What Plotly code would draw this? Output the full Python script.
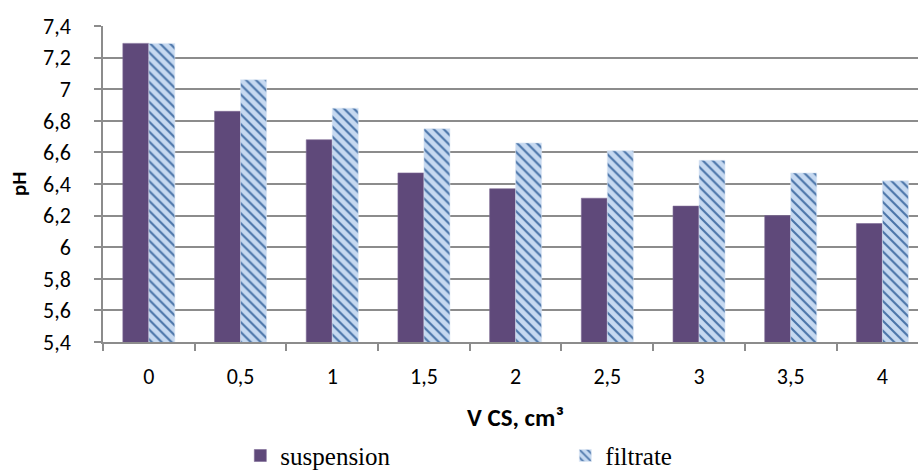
import plotly.graph_objects as go

# Volume of CS added (cm³) and measured pH
volumes = ["0", "0,5", "1", "1,5", "2", "2,5", "3", "3,5", "4"]
ph_suspension = [7.29, 6.86, 6.68, 6.47, 6.37, 6.31, 6.26, 6.20, 6.15]
ph_filtrate = [7.29, 7.06, 6.88, 6.75, 6.66, 6.61, 6.55, 6.47, 6.42]

y_tickvals = [5.4, 5.6, 5.8, 6.0, 6.2, 6.4, 6.6, 6.8, 7.0, 7.2, 7.4]
y_ticktext = ["5,4", "5,6", "5,8", "6", "6,2", "6,4", "6,6", "6,8", "7", "7,2", "7,4"]

sans = "Carlito, Calibri, Lato, sans-serif"
serif = "'Times New Roman', 'Liberation Serif', serif"
grid = "#8c8c8c"

fig = go.Figure()
fig.add_trace(go.Bar(
    x=volumes, y=ph_suspension, name="suspension",
    marker=dict(color="#5F497A", line=dict(color="#7d6a96", width=0.6)),
))
fig.add_trace(go.Bar(
    x=volumes, y=ph_filtrate, name="filtrate",
    marker=dict(
        color="#C6D9F1",
        line=dict(color="#dbe6f4", width=0.6),
        pattern=dict(shape="\\", fgcolor="#4A74A8", bgcolor="#C6D9F1",
                     size=7, solidity=0.3, fillmode="replace"),
    ),
))

fig.update_layout(
    width=918, height=472,
    margin=dict(l=103, r=0, t=26, b=130, autoexpand=False),
    paper_bgcolor="white", plot_bgcolor="white",
    barmode="group", bargap=0.433, bargroupgap=0,
    font=dict(family=sans, size=21, color="#000000"),
    showlegend=True,
    legend=dict(
        orientation="h", x=0.1685, xanchor="left", y=-0.36, yanchor="middle",
        font=dict(family=serif, size=25, color="#000000"),
        entrywidth=280, entrywidthmode="pixels", itemwidth=30,
        traceorder="normal", bgcolor="rgba(0,0,0,0)",
    ),
)

fig.update_xaxes(
    type="category", range=[-0.5, 8.388],
    showline=True, linecolor=grid, linewidth=1.5,
    ticks="outside", tickson="boundaries", ticklen=7, tickcolor=grid, tickwidth=1.5,
    showgrid=False, ticklabelstandoff=14,
    tickfont=dict(family=sans, size=22),
)
fig.update_yaxes(
    range=[5.4, 7.4], tickvals=y_tickvals, ticktext=y_ticktext,
    showline=True, linecolor=grid, linewidth=1.5,
    ticks="outside", ticklen=7, tickcolor=grid, tickwidth=1.5,
    showgrid=True, gridcolor=grid, gridwidth=1.5,
    zeroline=False, ticklabelposition="outside", ticklabelstandoff=19,
    tickfont=dict(family=sans, size=22),
)

# Axis titles
fig.add_annotation(
    text="<b>V CS, cm³</b>", xref="paper", yref="paper",
    x=(515 - 103) / 815, y=-(417 - 342) / 316,
    xanchor="center", yanchor="middle", showarrow=False,
    font=dict(family=sans, size=25),
)
fig.add_annotation(
    text="<b>pH</b>", xref="paper", yref="paper",
    x=-(103 - 19) / 815, y=0.5, textangle=-90,
    xanchor="center", yanchor="middle", showarrow=False,
    font=dict(family=sans, size=21),
)

fig.write_html("out.html")
